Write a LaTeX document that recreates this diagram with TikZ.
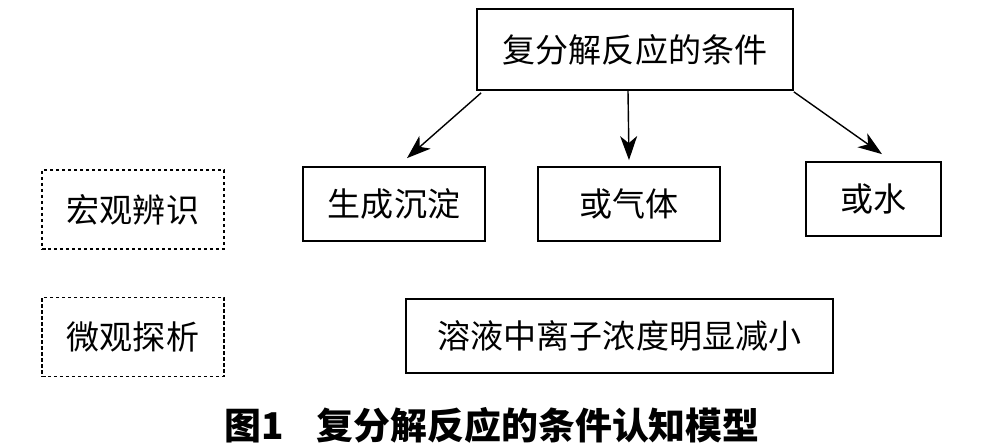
\documentclass[tikz,border=0pt]{standalone}
\usepackage{fontspec}
\newfontfamily\cjk{Noto Sans CJK SC}
\usetikzlibrary{arrows.meta}

\begin{document}
\begin{tikzpicture}[x=0.02cm,y=-0.02cm,
  box/.style={draw,line width=1pt,inner sep=0pt,font=\cjk\fontsize{18.8}{20}\selectfont},
  dbox/.style={box,line width=0.8pt,dash pattern=on 0.07cm off 0.05cm},
  arr/.style={line width=0.8pt,-{Stealth[length=0.48cm,width=0.34cm,inset=0.14cm]}}]
\useasboundingbox (0,0) rectangle (994,448);
\node[box,minimum width=316*0.02cm,minimum height=81*0.02cm] (top) at (635,49.5) {复分解反应的条件};
\node[box,minimum width=182*0.02cm,minimum height=74*0.02cm] (sc) at (394,204) {生成沉淀};
\node[box,minimum width=182*0.02cm,minimum height=74*0.02cm] (qt) at (629,204) {或气体};
\node[box,minimum width=135*0.02cm,minimum height=74*0.02cm] (water) at (873.5,199) {或水};
\node[dbox,minimum width=182*0.02cm,minimum height=79*0.02cm] (hg) at (133,209.5) {宏观辨识};
\node[dbox,minimum width=182*0.02cm,minimum height=79*0.02cm] (wg) at (133,337) {微观探析};
\node[box,minimum width=427*0.02cm,minimum height=74*0.02cm] (lz) at (619.5,336) {溶液中离子浓度明显减小};
\node[font=\cjk\bfseries\fontsize{21}{24}\selectfont] (cap) at (492,425) {图1\hspace{0.9em}复分解反应的条件认知模型};
\draw[arr] ([xshift=0.1cm,yshift=-0.04cm]top.south west) -- ([xshift=0.26cm,yshift=0.16cm]sc.north);
\draw[arr] ([xshift=-0.14cm]top.south) -- ([yshift=0.12cm]qt.north);
\draw[arr] ([yshift=-0.02cm]top.south east) -- ([xshift=0.17cm,yshift=0.14cm]water.north);
\end{tikzpicture}
\end{document}
